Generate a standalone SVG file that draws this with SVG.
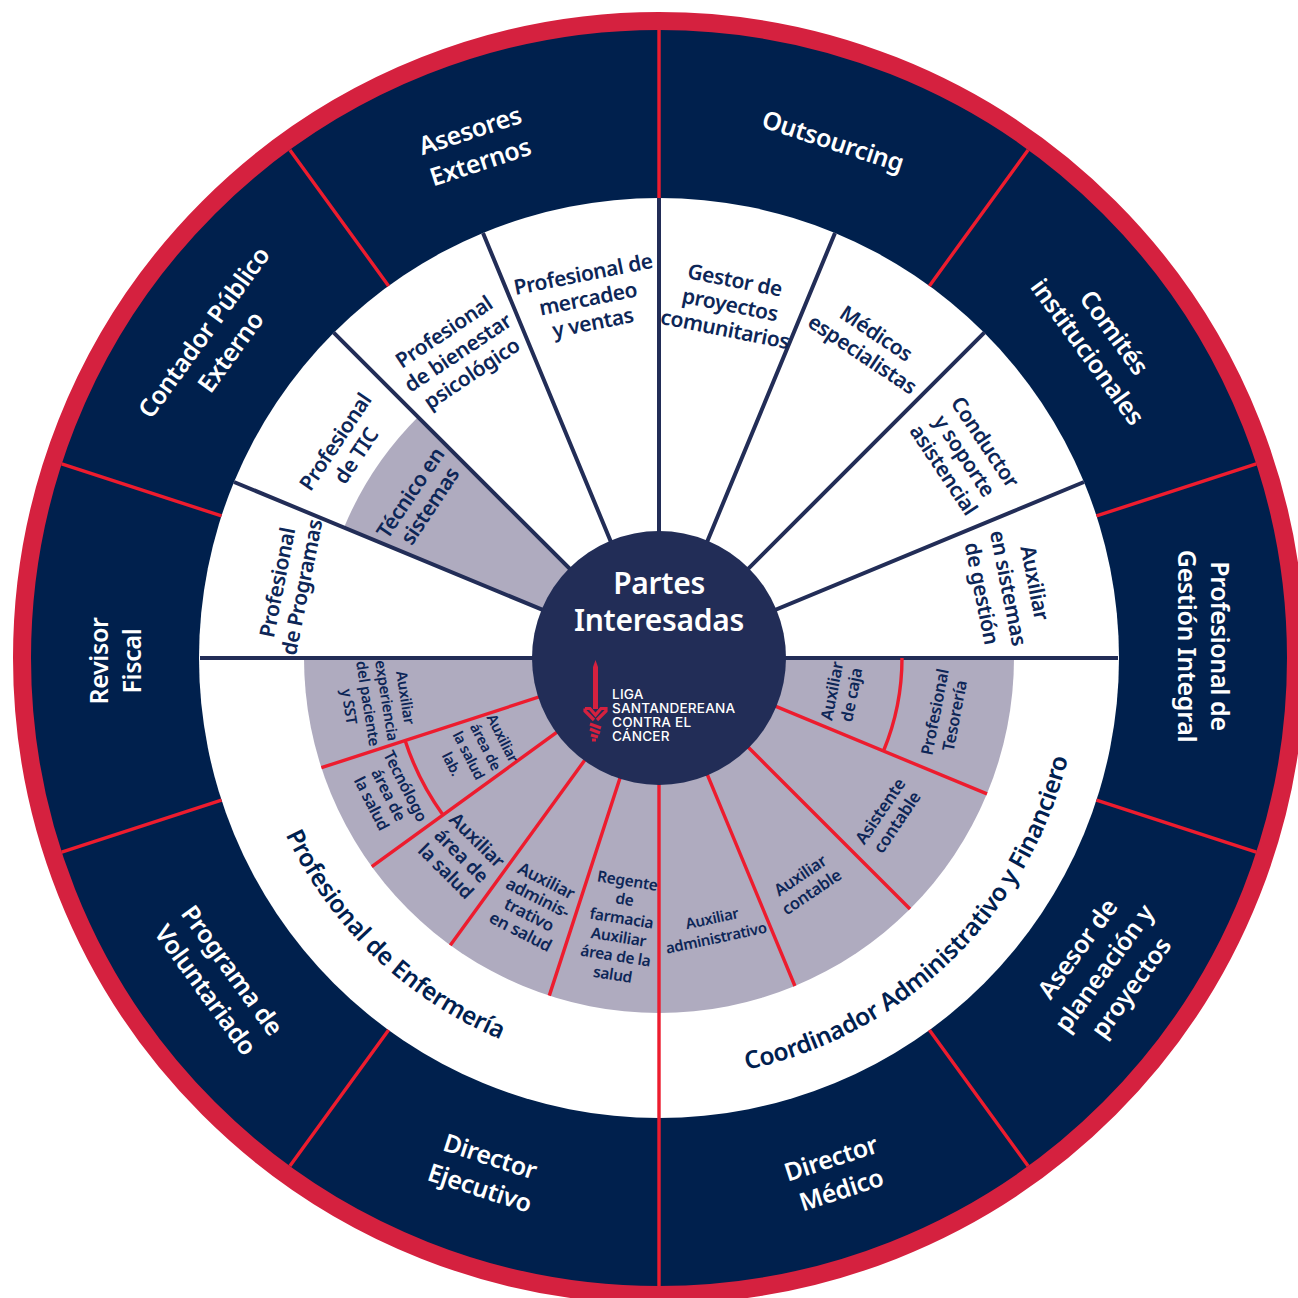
<svg xmlns="http://www.w3.org/2000/svg" width="1298" height="1298" viewBox="0 0 1298 1298">
<style>
text{font-family:"Noto Sans","Open Sans","Liberation Sans",sans-serif;text-anchor:middle}
.o{font-size:25px;font-weight:600;fill:#fff;letter-spacing:-.35px}
.m{font-size:21px;font-weight:600;fill:#0d2657;letter-spacing:-.4px}
.i{font-size:16px;font-weight:600;fill:#0d2657;letter-spacing:-.3px}
.c{font-size:24.5px;font-weight:600;fill:#00204f;letter-spacing:-.3px}
.t{font-size:30px;font-weight:600;fill:#fff;letter-spacing:-.3px}
.l{font-family:Inter,"Noto Sans",sans-serif;font-size:13.6px;font-weight:500;fill:#fff;text-anchor:start;letter-spacing:.2px}
.rl{stroke:#ed1c2e;stroke-width:3.4;fill:none}
.nl{stroke:#222d57;stroke-width:4;fill:none}
</style>
<defs>
<path id="pe" d="M246 658A413 413 0 0 0 659 1071"/>
<path id="pc" d="M659 1079A421 421 0 0 0 1080 658"/>
</defs>
<rect width="1298" height="1298" fill="#fff"/>
<g id="rings">
<circle cx="659" cy="658" r="637" fill="#00204d" stroke="#d5213f" stroke-width="18"/>
<circle cx="659" cy="658" r="460" fill="#fff"/>
<path d="M659 658L304 658A355 355 0 0 0 1014 658Z" fill="#afabbf"/>
<path d="M659 658L344 527.5A341 341 0 0 1 418 417Z" fill="#afabbf"/>
</g>
<g id="connectors">
<path class="rl" d="M659 30V198M1028.1 149.9L929.4 285.9M1256.3 463.9L1096.5 515.9M1256.3 852.1L1096.5 800.1M1028.1 1166.1L929.4 1030.1M659 1286V658M289.9 1166.1L388.6 1030.1M61.7 852.1L221.5 800.1M61.7 463.9L221.5 515.9M289.9 149.9L388.6 285.9"/>
<path class="nl" d="M659 198V658M835 233L659 658M984.3 332.7L659 658M1084 482L659 658M483 233L659 658M333.7 332.7L659 658M234 482L659 658M200 658H1118"/>
<path class="rl" d="M659 658L987 793.9M659 658L910 909M659 658L794.9 986M659 658L549.3 995.6M659 658L450.3 945.2M659 658L371.8 866.7M659 658L321.4 767.7M902 658A243 243 0 0 1 883.5 751M405.1 740.5A267 267 0 0 0 443 814.9"/>
</g>
<g id="outer-labels">
<g id="n-asesores"><text class="o" transform="translate(475 146) rotate(-18)"><tspan x="0" y="-7.5">Asesores</tspan><tspan x="0" y="25.5">Externos</tspan></text></g>
<g id="n-outsourcing"><text class="o" transform="translate(833 141) rotate(18)" y="9">Outsourcing</text></g>
<g id="n-comites"><text class="o" transform="translate(1101 342) rotate(54)"><tspan x="0" y="-7.5">Comités</tspan><tspan x="0" y="25.5">institucionales</tspan></text></g>
<g id="n-gestion"><text class="o" transform="translate(1203 646) rotate(90)"><tspan x="0" y="-7.5">Profesional de</tspan><tspan x="0" y="25.5">Gestión Integral</tspan></text></g>
<g id="n-asesor"><text class="o" transform="translate(1104 968) rotate(-54)"><tspan x="0" y="-24">Asesor de</tspan><tspan x="0" y="9">planeación y</tspan><tspan x="0" y="42">proyectos</tspan></text></g>
<g id="n-medico"><text class="o" transform="translate(836 1174) rotate(-18)"><tspan x="0" y="-7.5">Director</tspan><tspan x="0" y="25.5">Médico</tspan></text></g>
<g id="n-ejecutivo"><text class="o" transform="translate(485 1172) rotate(18)"><tspan x="0" y="-7.5">Director</tspan><tspan x="0" y="25.5">Ejecutivo</tspan></text></g>
<g id="n-voluntariado"><text class="o" transform="translate(219 980) rotate(54)"><tspan x="0" y="-7.5">Programa de</tspan><tspan x="0" y="25.5">Voluntariado</tspan></text></g>
<g id="n-revisor"><text class="o" transform="translate(115 661) rotate(-90)"><tspan x="0" y="-7.5">Revisor</tspan><tspan x="0" y="25.5">Fiscal</tspan></text></g>
<g id="n-contador"><text class="o" transform="translate(217 342) rotate(-54)"><tspan x="0" y="-7.5">Contador Público</tspan><tspan x="0" y="25.5">Externo</tspan></text></g>
</g>
<g id="middle-labels">
<g id="n-mercadeo"><text class="m" transform="translate(588 299) rotate(-11.25)"><tspan x="0" y="-18">Profesional de</tspan><tspan x="0" y="7">mercadeo</tspan><tspan x="0" y="31.500">y ventas</tspan></text></g>
<g id="n-gestor"><text class="m" transform="translate(730 305) rotate(11.25)"><tspan x="0" y="-18">Gestor de</tspan><tspan x="0" y="7">proyectos</tspan><tspan x="0" y="32">comunitarios</tspan></text></g>
<g id="n-medicos"><text class="m" transform="translate(869 344) rotate(33.75)"><tspan x="0" y="-5.5">Médicos</tspan><tspan x="0" y="19.5">especialistas</tspan></text></g>
<g id="n-conductor"><text class="m" transform="translate(964 456) rotate(56.25)"><tspan x="0" y="-18">Conductor</tspan><tspan x="0" y="7">y soporte</tspan><tspan x="0" y="32">asistencial</tspan></text></g>
<g id="n-auxsis"><text class="m" transform="translate(1008 588) rotate(78.75)"><tspan x="0" y="-20">Auxiliar</tspan><tspan x="0" y="7">en sistemas</tspan><tspan x="0" y="34">de gestión</tspan></text></g>
<g id="n-programas"><text class="m" transform="translate(290 585) rotate(-78.75)"><tspan x="0" y="-5.5">Profesional</tspan><tspan x="0" y="19.5">de Programas</tspan></text></g>
<g id="n-tic"><text class="m" transform="translate(346 449) rotate(-56.25)"><tspan x="0" y="-5.5">Profesional</tspan><tspan x="0" y="19.5">de TIC</tspan></text></g>
<g id="n-tecnico"><text class="m" transform="translate(421 500) rotate(-56.25)"><tspan x="0" y="-5.5">Técnico en</tspan><tspan x="0" y="18">sistemas</tspan></text></g>
<g id="n-bienestar"><text class="m" transform="translate(458 353) rotate(-33.75)"><tspan x="0" y="-18">Profesional</tspan><tspan x="0" y="7">de bienestar</tspan><tspan x="0" y="32">psicológico</tspan></text></g>
</g>
<g id="inner-labels">
<g id="n-caja"><text class="i" style="font-size:16.5px" transform="translate(842 693) rotate(-79)"><tspan x="0" y="-4.5">Auxiliar</tspan><tspan x="0" y="15.5">de caja</tspan></text></g>
<g id="n-tesoreria"><text class="i" style="font-size:16.5px" transform="translate(945 714) rotate(-79)"><tspan x="0" y="-4.5">Profesional</tspan><tspan x="0" y="15.5">Tesorería</tspan></text></g>
<g id="n-asistente"><text class="i" style="font-size:17px" transform="translate(889 817) rotate(-56)"><tspan x="0" y="-4.5">Asistente</tspan><tspan x="0" y="15.5">contable</tspan></text></g>
<g id="n-auxcont"><text class="i" style="font-size:16.5px" transform="translate(806 884) rotate(-34)"><tspan x="0" y="-4.5">Auxiliar</tspan><tspan x="0" y="15.5">contable</tspan></text></g>
<g id="n-auxadm"><text class="i" style="font-size:15px" transform="translate(714 928) rotate(-12)"><tspan x="0" y="-4.5">Auxiliar</tspan><tspan x="0" y="15.5">administrativo</tspan></text></g>
<g id="n-regente"><text class="i" style="font-size:15.5px" transform="translate(620 928) rotate(9)"><tspan x="0" y="-42.5">Regente</tspan><tspan x="0" y="-23.5">de</tspan><tspan x="0" y="-4.5">farmacia</tspan><tspan x="0" y="14.5">Auxiliar</tspan><tspan x="0" y="33.5">área de la</tspan><tspan x="0" y="52.5">salud</tspan></text></g>
<g id="n-auxsalud"><text class="i" style="font-size:17px" transform="translate(533 907) rotate(27)"><tspan x="0" y="-23.5">Auxiliar</tspan><tspan x="0" y="-4.5">adminis-</tspan><tspan x="0" y="14.5">trativo</tspan><tspan x="0" y="33.5">en salud</tspan></text></g>
<g id="n-areasalud"><text class="i" style="font-size:19px" transform="translate(461 856) rotate(45)"><tspan x="0" y="-16">Auxiliar</tspan><tspan x="0" y="6">área de</tspan><tspan x="0" y="28">la salud</tspan></text></g>
<g id="n-tecnologo"><text class="i" style="font-size:16px" transform="translate(388 795) rotate(63)"><tspan x="0" y="-14">Tecnólogo</tspan><tspan x="0" y="5">área de</tspan><tspan x="0" y="24">la salud</tspan></text></g>
<g id="n-lab"><text class="i" style="font-size:14.5px" transform="translate(477 751) rotate(63)"><tspan x="0" y="-23.5">Auxiliar</tspan><tspan x="0" y="-4.5">área de</tspan><tspan x="0" y="14.5">la salud</tspan><tspan x="0" y="33.5">lab.</tspan></text></g>
<g id="n-sst"><text class="i" style="font-size:15px" transform="translate(377 702) rotate(81)"><tspan x="0" y="-23.5">Auxiliar</tspan><tspan x="0" y="-4.5">experiencia</tspan><tspan x="0" y="14.5">del paciente</tspan><tspan x="0" y="33.5">y SST</tspan></text></g>
</g>
<g id="ring-titles">
<g id="n-enfermeria"><text class="c"><textPath href="#pe" startOffset="51.5%">Profesional de Enfermería</textPath></text></g>
<g id="n-coordinador"><text class="c"><textPath href="#pc" startOffset="49%">Coordinador Administrativo y Financiero</textPath></text></g>
</g>
<g id="n-centro">
<circle cx="659" cy="658" r="127" fill="#222d57"/>
<text class="t"><tspan x="659" y="594">Partes</tspan><tspan x="659" y="631">Interesadas</tspan></text>
<path d="M595.5 660L598 667V709H593V667Z" fill="#d5213f"/>
<path d="M585 708.500H590L595.500 715L601 708.500H606V711L597 720M585 708.500V711L594 720M590 724L601 728M590 729L600 733M591 735L598 737M592 740H596" fill="none" stroke="#d5213f" stroke-width="3.200"/>
<text class="l"><tspan x="612" y="699">LIGA</tspan><tspan x="612" y="713">SANTANDEREANA</tspan><tspan x="612" y="727">CONTRA EL</tspan><tspan x="612" y="741">CÁNCER</tspan></text>
</g>
</svg>
